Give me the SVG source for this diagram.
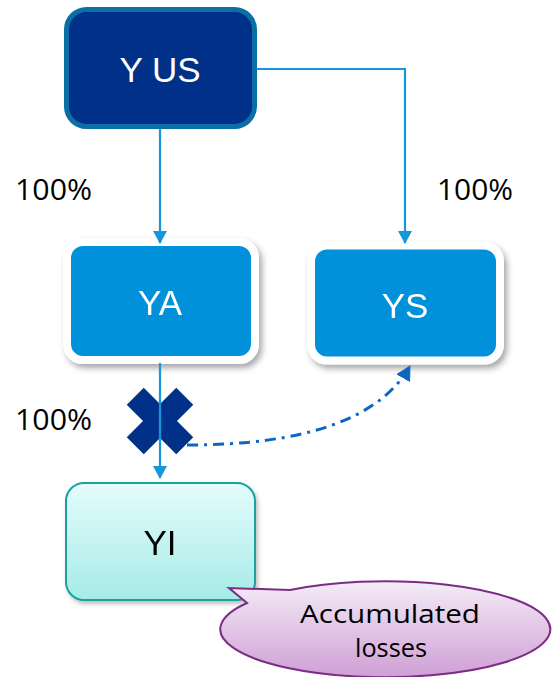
<svg xmlns="http://www.w3.org/2000/svg" width="554" height="677" viewBox="0 0 554 677">
<style>
.node-text{font-family:"Liberation Sans",Arial,sans-serif;font-size:35px;text-anchor:middle}
.pct{font-family:"Open Sans","Noto Sans",sans-serif;font-size:29px;fill:#000}
.conn{fill:none;stroke:#1696dc;stroke-width:2.2}
.blue{fill:#0091da;stroke:#fff;stroke-width:8}
</style>
<defs>
<filter id="sh" x="-20%" y="-20%" width="140%" height="150%">
<feDropShadow dx="3" dy="4" stdDeviation="3" flood-color="#000" flood-opacity="0.35"/>
</filter>
<filter id="sh2" x="-20%" y="-20%" width="140%" height="150%">
<feDropShadow dx="2" dy="3" stdDeviation="2" flood-color="#000" flood-opacity="0.25"/>
</filter>
<linearGradient id="gYI" x1="0" y1="0" x2="0" y2="1">
<stop offset="0" stop-color="#e4fcfc"/>
<stop offset="1" stop-color="#a6ebe7"/>
</linearGradient>
<linearGradient id="gCall" x1="0" y1="0" x2="0" y2="1">
<stop offset="0" stop-color="#f4ecf7"/>
<stop offset="1" stop-color="#cf9fd6"/>
</linearGradient>
<marker id="ah" markerWidth="14" markerHeight="14" refX="12" refY="7" orient="auto" markerUnits="userSpaceOnUse">
<path d="M0,0 L13,7 L0,14 Z" fill="#1696dc"/>
</marker>
<marker id="ah2" markerWidth="16" markerHeight="16" refX="14" refY="8" orient="auto" markerUnits="userSpaceOnUse">
<path d="M0,0 L15,8 L0,16 Z" fill="#0e66c2"/>
</marker>
</defs>

<g id="node-yus">
<rect x="66.5" y="9.5" width="188" height="117" rx="20" fill="#003087" stroke="#0a6fa5" stroke-width="5"/>
<text class="node-text" x="160" y="82" fill="#fff">Y US</text>
</g>

<g id="node-ya" filter="url(#sh)">
<rect class="blue" x="67" y="242" width="188" height="118" rx="16"/>
<text class="node-text" x="160" y="315" fill="#fff">YA</text>
</g>

<g id="node-ys" filter="url(#sh)">
<rect class="blue" x="311" y="245.5" width="189" height="115" rx="16"/>
<text class="node-text" x="405" y="318" fill="#fff">YS</text>
</g>

<g id="node-yi" filter="url(#sh2)">
<rect x="66" y="483" width="189" height="117" rx="18" fill="url(#gYI)" stroke="#1aa0a0" stroke-width="2"/>
<text class="node-text" x="160" y="555" fill="#000">YI</text>
</g>

<g id="block-mark">
<rect x="125" y="409" width="70" height="24" fill="#003087" transform="rotate(45 160 421)"/>
<rect x="125" y="409" width="70" height="24" fill="#003087" transform="rotate(-45 160 421)"/>
</g>

<g id="connectors">
<path class="conn" d="M160,129 L160,243" marker-end="url(#ah)"/>
<path class="conn" d="M257,69 L405,69 L405,243" marker-end="url(#ah)"/>
<path class="conn" d="M160,363 L160,478" marker-end="url(#ah)"/>
<path d="M187,445 Q365,445 410,366" fill="none" stroke="#0e66c2" stroke-width="3" stroke-dasharray="11,6,3,6" marker-end="url(#ah2)"/>
</g>

<g id="labels">
<text class="pct" x="15" y="200" textLength="77" lengthAdjust="spacingAndGlyphs">100%</text>
<text class="pct" x="437" y="200" textLength="76" lengthAdjust="spacingAndGlyphs">100%</text>
<text class="pct" x="15" y="430" textLength="77" lengthAdjust="spacingAndGlyphs">100%</text>
</g>

<g id="callout">
<path d="M290,590 A165 48 0 1 1 247,603 L229,588 Z" fill="url(#gCall)" stroke="#7b2d83" stroke-width="2"/>
<text x="390" y="623" font-family="Open Sans,Noto Sans,sans-serif" font-size="26" text-anchor="middle" textLength="180" lengthAdjust="spacingAndGlyphs" fill="#000">Accumulated</text>
<text x="391" y="657" font-family="Open Sans,Noto Sans,sans-serif" font-size="26" text-anchor="middle" textLength="72" lengthAdjust="spacingAndGlyphs" fill="#000">losses</text>
</g>
</svg>
